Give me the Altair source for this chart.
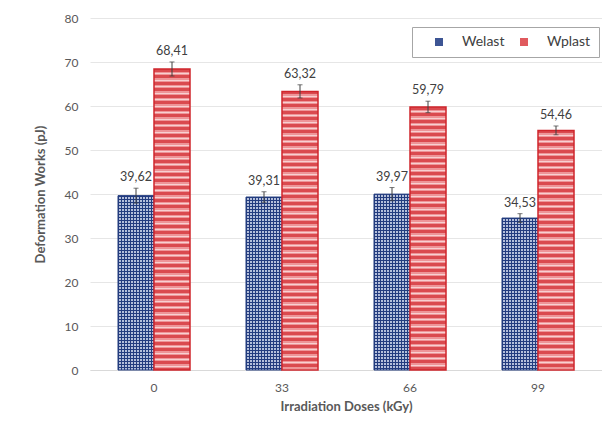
import altair as alt
import pandas as pd

# ---------------- data ----------------
doses = ["0", "33", "66", "99"]
series_names = ["Welast", "Wplast"]
welast = [39.62, 39.31, 39.97, 34.53]
wplast = [68.41, 63.32, 59.79, 54.46]
welast_err = [1.7, 1.2, 1.5, 1.0]
wplast_err = [1.6, 1.5, 1.3, 1.0]
y_ticks = [0, 10, 20, 30, 40, 50, 60, 70, 80]

# ---------------- layout ----------------
W, H = 512, 352
PAD_L, PAD_T, PAD_B = 82, 10, 43
BAR_W = 36
YMAX = 80

FONT = "Lato"
NAVY = "#233c7f"
LIGHTBLUE = "#b4bfdb"
RED = "#d0262c"

rows = []
for name, vals, errs in (("Welast", welast, welast_err), ("Wplast", wplast, wplast_err)):
    for d, v, e in zip(doses, vals, errs):
        rows.append(dict(dose=d, series=name, value=v, lo=v - e, hi=v + e,
                         label=f"{v:.2f}".replace(".", ",")))
df = pd.DataFrame(rows)


def stripe_gradient(length_px, bands, vertical=True):
    """bands: list of (color, thickness_px) forming one period"""
    stops = []
    pos = 0.0
    done = False
    while not done:
        for color, t in bands:
            a = min(pos / length_px, 1.0)
            b = min((pos + t) / length_px, 1.0)
            stops.append({"offset": a, "color": color})
            stops.append({"offset": b, "color": color})
            pos += t
            if pos >= length_px:
                done = True
                break
    if vertical:
        return {"gradient": "linear", "x1": 0, "y1": 0, "x2": 0, "y2": 1, "stops": stops}
    return {"gradient": "linear", "x1": 0, "y1": 0, "x2": 1, "y2": 0, "stops": stops}


x_enc = alt.X("dose:N", sort=doses,
              scale=alt.Scale(paddingInner=0, paddingOuter=0),
              axis=alt.Axis(title="Irradiation Doses (kGy)", labelAngle=0, ticks=False,
                            domainColor="#d9d9d9", grid=False, labelPadding=12,
                            titlePadding=7))
xo_enc = alt.XOffset("series:N", sort=series_names,
                     scale=alt.Scale(domain=series_names, paddingInner=0,
                                     paddingOuter=(W / len(doses) / BAR_W - 2) / 2))
y_axis = alt.Axis(title="Deformation Works (pJ)", values=y_ticks, domain=False, ticks=False,
                  gridColor="#e6e6e6", labelPadding=12, titlePadding=17)
y_scale = alt.Scale(domain=[0, YMAX], nice=False)


def y_enc(field):
    return alt.Y(f"{field}:Q", scale=y_scale, axis=y_axis)


base = alt.Chart(df)

# solid base bars (carry the legend)
base_bars = base.mark_bar().encode(
    x=x_enc, xOffset=xo_enc, y=y_enc("value"),
    color=alt.Color("series:N", sort=series_names,
                    scale=alt.Scale(domain=series_names, range=["#3d5594", "#e05a5e"]),
                    legend=alt.Legend(title=None, orient="none", direction="horizontal",
                                      legendX=322, legendY=9, padding=8,
                                      strokeColor="#a6a6a6", fillColor="white",
                                      symbolType="square", symbolSize=64,
                                      symbolStrokeWidth=0, labelFont=FONT,
                                      labelFontSize=14, labelColor="#404040",
                                      labelOffset=16, columnPadding=-3,
                                      symbolOffset=12)),
)

layers = [base_bars]

# Welast checker: vertical stripes (dark/light) + horizontal stripes (dark/transparent)
vstripes = stripe_gradient(BAR_W, [(NAVY, 1.35), (LIGHTBLUE, 1.65)], vertical=False)
layers.append(
    base.transform_filter(alt.datum.series == "Welast")
    .mark_bar(fill=vstripes, stroke=None)
    .encode(x=x_enc, xOffset=xo_enc, y=y_enc("value"))
)
for d, v in zip(doses, welast):
    g = stripe_gradient(v / YMAX * H, [(NAVY, 1.35), ("rgba(255,255,255,0)", 1.65)])
    layers.append(
        base.transform_filter((alt.datum.series == "Welast") & (alt.datum.dose == d))
        .mark_bar(fill=g, stroke=NAVY, strokeWidth=1)
        .encode(x=x_enc, xOffset=xo_enc, y=y_enc("value"))
    )

# Wplast horizontal stripes
for d, v in zip(doses, wplast):
    g = stripe_gradient(v / YMAX * H,
                        [("#da4a4f", 3.0), ("#ee9598", 1.5), ("#f8d0d1", 1.0), ("#ee9598", 1.0)])
    layers.append(
        base.transform_filter((alt.datum.series == "Wplast") & (alt.datum.dose == d))
        .mark_bar(fill=g, stroke=RED, strokeWidth=1.5)
        .encode(x=x_enc, xOffset=xo_enc, y=y_enc("value"))
    )

# error bars
layers.append(
    base.mark_rule(color="#404040", strokeWidth=1).encode(
        x=x_enc, xOffset=xo_enc, y=y_enc("lo"), y2="hi:Q")
)
for f in ("lo", "hi"):
    layers.append(
        base.mark_tick(color="#404040", thickness=1, size=5).encode(
            x=x_enc, xOffset=xo_enc, y=y_enc(f))
    )

# value labels
layers.append(
    base.mark_text(baseline="bottom", dy=-4, font=FONT, fontSize=12.5, color="#404040").encode(
        x=x_enc, xOffset=xo_enc, y=y_enc("hi"), text="label:N")
)

chart = alt.layer(*layers).properties(
    width=W, height=H,
    autosize=alt.AutoSizeParams(type="none"),
    padding={"left": PAD_L, "top": PAD_T, "right": 0, "bottom": PAD_B},
).configure_view(stroke=None).configure_axis(
    labelFont=FONT, titleFont=FONT, labelColor="#595959", titleColor="#595959",
    labelFontSize=12, titleFontSize=13, titleFontWeight="bold",
)

chart.save("out.html", embed_options={"renderer": "svg", "actions": False})
